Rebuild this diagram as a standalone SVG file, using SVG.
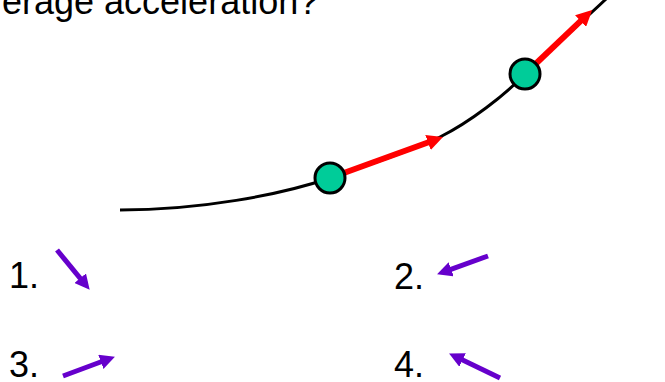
<svg xmlns="http://www.w3.org/2000/svg" width="665" height="382" viewBox="0 0 665 382">
<style>
text{font-family:"Liberation Sans",Arial,sans-serif;font-size:36px;fill:#000}
.path{fill:none;stroke:#000;stroke-width:3}
.red{stroke:#FF0000;stroke-width:6;fill:none;marker-end:url(#hr)}
.pur{stroke:#6600CC;stroke-width:5;fill:none;marker-end:url(#hp)}
.pt{fill:#00CC99;stroke:#000;stroke-width:3}
</style>
<defs>
<marker id="hr" markerUnits="userSpaceOnUse" markerWidth="16" markerHeight="16" refX="5" refY="8" orient="auto"><path d="M0,0 L16,8 L0,16 z" fill="#FF0000"/></marker>
<marker id="hp" markerUnits="userSpaceOnUse" markerWidth="15" markerHeight="15" refX="4" refY="7.5" orient="auto"><path d="M0,0 L15,7.5 L0,15 z" fill="#6600CC"/></marker>
</defs>
<text id="title" x="2" y="14">erage acceleration?</text>
<g id="connectors">
<path class="path" d="M120,210 C200,210 280,195 330,178 C368,165 412,151 440,137 C470,122 505,95 525,74 C552,48 585,19 605,0 L630,-24"/>
<line class="red" x1="330" y1="178" x2="432.7" y2="140.7"/>
<line class="red" x1="525" y1="74" x2="584.2" y2="17.6"/>
</g>
<g id="point1"><circle class="pt" cx="330" cy="178" r="15"/></g>
<g id="point2"><circle class="pt" cx="525" cy="74" r="15"/></g>
<g id="option1"><text x="9" y="288">1.</text><line class="pur" x1="57" y1="250" x2="82.7" y2="281.3"/></g>
<g id="option2"><text x="394" y="289">2.</text><line class="pur" x1="488" y1="256" x2="447.4" y2="270.6"/></g>
<g id="option3"><text x="9" y="377">3.</text><line class="pur" x1="63" y1="376" x2="104.6" y2="360.5"/></g>
<g id="option4"><text x="394" y="377">4.</text><line class="pur" x1="500" y1="378" x2="459" y2="358.3"/></g>
</svg>
